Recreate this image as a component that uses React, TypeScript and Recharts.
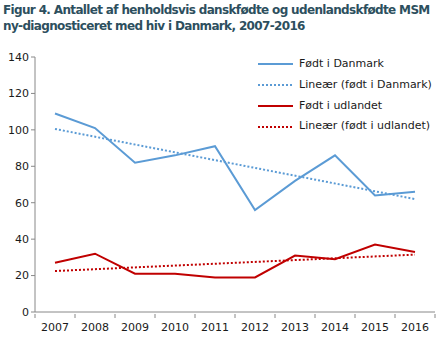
import { LineChart, Line, XAxis, YAxis } from "recharts";

const years = ["2007", "2008", "2009", "2010", "2011", "2012", "2013", "2014", "2015", "2016"];
const bornDenmark = [109, 101, 82, 86, 91, 56, 72, 86, 64, 66];
const bornAbroad = [27, 32, 21, 21, 19, 19, 31, 29, 37, 33];
// trend lines at the two ends
const trendDenmark = [100.5, null, null, null, null, null, null, null, null, 62];
const trendAbroad = [22.5, null, null, null, null, null, null, null, null, 31.5];
const yTicks = [0, 20, 40, 60, 80, 100, 120, 140];

const BLUE = "#5b9bd5";
const RED = "#c00000";
const BAND = 40;

const data = years.map((year, i) => ({
    year,
    dk: bornDenmark[i],
    dkTrend: trendDenmark[i],
    abroad: bornAbroad[i],
    abroadTrend: trendAbroad[i],
}));

const legendItems = [
    { label: "Født i Danmark", color: BLUE, dashed: false },
    { label: "Lineær (født i Danmark)", color: BLUE, dashed: true },
    { label: "Født i udlandet", color: RED, dashed: false },
    { label: "Lineær (født i udlandet)", color: RED, dashed: true },
];

function ChartLegend() {
    return (
        <div
            style={{
                position: "absolute",
                left: 254,
                top: 54,
                fontSize: 11,
                color: "#1a1a1a",
                lineHeight: "20.8px",
                whiteSpace: "nowrap",
            }}
        >
            {legendItems.map((item) => (
                <div key={item.label} style={{ display: "flex", alignItems: "center" }}>
                    <svg width={45} height={8}>
                        <line
                            x1={4}
                            y1={4}
                            x2={39}
                            y2={4}
                            stroke={item.color}
                            strokeWidth={2}
                            strokeDasharray={item.dashed ? "2 2" : undefined}
                        />
                    </svg>
                    <span>{item.label}</span>
                </div>
            ))}
        </div>
    );
}

// year label at the point, tick marks on the category borders
function YearTick(props: any) {
    const { x, y, payload, index } = props;
    const last = index === years.length - 1;
    return (
        <g>
            <line x1={x - BAND / 2} y1={y - 4} x2={x - BAND / 2} y2={y} stroke="#888" />
            {last && <line x1={x + BAND / 2} y1={y - 4} x2={x + BAND / 2} y2={y} stroke="#888" />}
            <text x={x} y={y + 13} textAnchor="middle" fill="#1a1a1a" fontSize={11}>
                {payload.value}
            </text>
        </g>
    );
}

export default function App() {
    return (
        <div
            style={{
                position: "absolute",
                left: 0,
                top: 0,
                width: 440,
                height: 338,
                background: "#fff",
                fontFamily: "'DejaVu Sans', Verdana, sans-serif",
            }}
        >
            <div
                style={{
                    position: "absolute",
                    left: 3,
                    top: 2,
                    fontSize: 12,
                    fontWeight: "bold",
                    color: "#2d4f5e",
                    lineHeight: "16px",
                    whiteSpace: "nowrap",
                    letterSpacing: -0.65,
                }}
            >
                Figur 4. Antallet af henholdsvis danskfødte og udenlandskfødte MSM
                <br />
                ny-diagnosticeret med hiv i Danmark, 2007-2016
            </div>
            <LineChart width={440} height={338} data={data} margin={{ top: 57, right: 5, bottom: 6, left: 0 }}>
                <XAxis
                    dataKey="year"
                    height={20}
                    tick={<YearTick />}
                    axisLine={{ stroke: "#888" }}
                    tickLine={false}
                    tickSize={4}
                    interval={0}
                    padding={{ left: BAND / 2, right: BAND / 2 }}
                />
                <YAxis
                    width={35}
                    domain={[0, 140]}
                    ticks={yTicks}
                    tick={{ fill: "#1a1a1a", fontSize: 11 }}
                    axisLine={{ stroke: "#888" }}
                    tickLine={{ stroke: "#888" }}
                    tickSize={4}
                />
                <Line dataKey="dk" stroke={BLUE} strokeWidth={2} dot={false} isAnimationActive={false} />
                <Line
                    dataKey="dkTrend"
                    stroke={BLUE}
                    strokeWidth={2}
                    strokeDasharray="2 2"
                    dot={false}
                    connectNulls
                    isAnimationActive={false}
                />
                <Line dataKey="abroad" stroke={RED} strokeWidth={2} dot={false} isAnimationActive={false} />
                <Line
                    dataKey="abroadTrend"
                    stroke={RED}
                    strokeWidth={2}
                    strokeDasharray="2 2"
                    dot={false}
                    connectNulls
                    isAnimationActive={false}
                />
            </LineChart>
            <ChartLegend />
        </div>
    );
}
